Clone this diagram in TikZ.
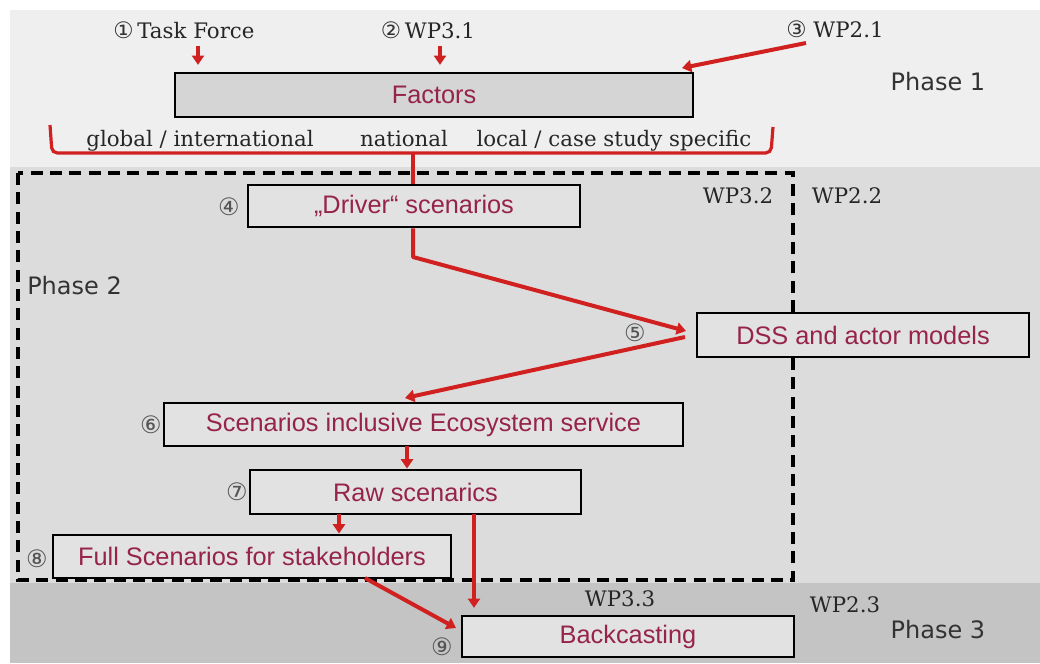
\documentclass[tikz,border=0pt]{standalone}
\usepackage{fontspec}
\setmainfont{DejaVu Serif}
\newfontfamily\boxfont{Liberation Sans}
\newfontfamily\phasefont{DejaVu Sans}
\newfontfamily\circfont{DejaVu Sans}
\usetikzlibrary{arrows.meta,calc}
\definecolor{myred}{RGB}{208,32,32}
\definecolor{boxtext}{RGB}{150,35,75}
\definecolor{bandA}{RGB}{239,239,239}
\definecolor{bandB}{RGB}{220,220,220}
\definecolor{bandC}{RGB}{196,196,196}
\definecolor{boxfillA}{RGB}{213,213,213}
\definecolor{boxfillB}{RGB}{226,226,226}
\definecolor{circgrey}{RGB}{85,85,85}
\begin{document}
\begin{tikzpicture}[x=0.75pt,y=-0.75pt,
  box/.style={draw=black, line width=2.2pt, fill=boxfillB, inner sep=0pt,
    font=\boxfont\fontsize{19}{22}\selectfont, text=boxtext, anchor=center},
  serif/.style={font=\fontsize{16}{19}\selectfont, text=black!85, inner sep=0pt, anchor=base},
  phase/.style={font=\phasefont\fontsize{18}{21}\selectfont, text=black!80, inner sep=0pt},
  circ/.style={font=\circfont\fontsize{18}{20}\selectfont, text=circgrey, inner sep=0pt},
  redarrow/.style={draw=myred, line width=3pt, -{Triangle[length=7pt,width=9pt]}},
  redline/.style={draw=myred, line width=2.4pt},
  dashbox/.style={draw=black, line width=2.3pt, dash pattern=on 9pt off 5.5pt}]
\useasboundingbox (0,0) rectangle (1040,664);
% bands
\fill[white] (0,0) rectangle (1040,664);
\fill[bandA] (10,10) rectangle (1040,167);
\fill[bandB] (10,167) rectangle (1040,583);
\fill[bandC] (10,583) rectangle (1040,663);
% dashed frame
\draw[dashbox] (18,173) rectangle (793,580);
% top labels
\node[serif] (tf) at (184,38) {{\circfont\fontsize{17}{19}\selectfont\color{black!80}①}\,Task Force};
\node[serif] (wp31) at (428,38) {{\circfont\fontsize{17}{19}\selectfont\color{black!80}②}\,WP3.1};
\node[serif] (wp21) at (835,37) {{\circfont\fontsize{17}{19}\selectfont\color{black!80}③}\hspace{5pt}WP2.1};
\node[phase] (ph1) at (938,82) {Phase 1};
% boxes (centre, width and height in px -> pt)
\node[box, fill=boxfillA, minimum width=388.5pt, minimum height=33pt] (factors) at (434,95) {Factors};
\node[box, minimum width=249pt, minimum height=31.5pt] (driver) at (414,206) {„Driver“ scenarios};
\node[box, minimum width=249pt, minimum height=33pt] (dss) at (863,335) {DSS and actor models};
\node[box, minimum width=389.25pt, minimum height=32.25pt] (scen) at (423.5,424.5) {Scenarios inclusive Ecosystem service};
\node[box, minimum width=248.25pt, minimum height=33pt] (raw) at (415.5,492) {Raw scenarics};
\node[box, minimum width=298.5pt, minimum height=32.25pt] (full) at (252,556.5) {Full Scenarios for stakeholders};
\node[box, minimum width=249pt, minimum height=30.75pt] (back) at (628,636.5) {Backcasting};
% level labels
\node[serif] (glob) at (200,146) {global / international};
\node[serif] (nat) at (404,146) {national};
\node[serif] (loc) at (614,146) {local / case study specific};
% WP labels
\node[serif] (wp32) at (738,203) {WP3.2};
\node[serif] (wp22) at (847,203) {WP2.2};
\node[serif] (wp33) at (620,606) {WP3.3};
\node[serif] (wp23) at (845,612) {WP2.3};
\node[phase, anchor=west] (ph2) at (27,286) {Phase 2};
\node[phase] (ph3) at (938,630) {Phase 3};
% circled numbers
\node[circ] (c4) at (229,207) {④};
\node[circ] (c5) at (635,333) {⑤};
\node[circ] (c6) at (151,425) {⑥};
\node[circ] (c7) at (237,492) {⑦};
\node[circ] (c8) at (37,559) {⑧};
\node[circ] (c9) at (442,647) {⑨};
% input arrows
\coordinate (tfa) at (198,46);
\coordinate (wpa) at (440,46);
\coordinate (wpb) at (806,43);
\coordinate (wpt) at (682,68);
\draw[redarrow, shorten >=5pt] (tfa) -- (tfa |- factors.north);
\draw[redarrow, shorten >=5pt] (wpa) -- (wpa |- factors.north);
\draw[redarrow] (wpb) -- (wpt);
% bracket
\coordinate (brk) at (413,153);
\draw[redline, rounded corners=4pt] (50,125) -- (52,153) -- (771,153) -- (773,127);
\draw[redline] (brk) -- (brk |- driver.north);
% flow
\coordinate (bend) at (413,257);
\coordinate (j5a) at (686,331);
\coordinate (j5b) at (685,337);
\coordinate (s6in) at (405,398);
\coordinate (a67) at (407,446);
\coordinate (a78) at (339,514);
\coordinate (a79) at (474,514);
\coordinate (a89) at (365,578);
\coordinate (a89t) at (456,628);
\draw[redarrow, line join=round] (driver.south -| bend) -- (bend) -- (j5a);
\draw[redarrow] (j5b) -- (s6in);
\draw[redarrow] (a67) -- (a67 |- raw.north);
\draw[redarrow] (a78) -- (a78 |- full.north);
\draw[redarrow, shorten >=5pt] (a79) -- (a79 |- back.north);
\draw[redarrow] (a89) -- (a89t);
\end{tikzpicture}
\end{document}
